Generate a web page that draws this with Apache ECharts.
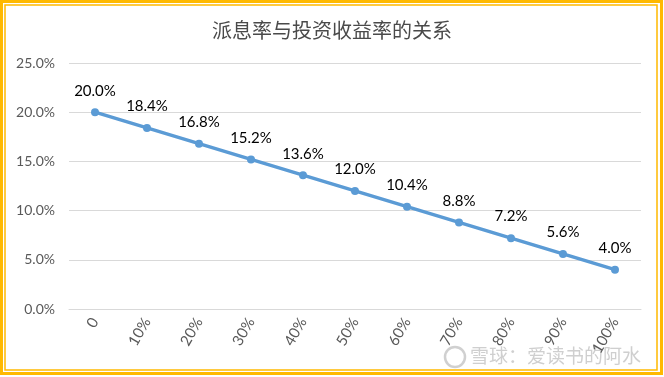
<!DOCTYPE html>
<html>
<head>
<meta charset="utf-8">
<script src="https://cdn.jsdelivr.net/npm/echarts@6/dist/echarts.min.js"></script>
<style>
html, body { margin: 0; padding: 0; background: #fff; }
#main { width: 664px; height: 377px; }
</style>
</head>
<body>
<div id="main"></div>
<script>
// 派息率 (x轴)
var payoutRatio = ['0', '10%', '20%', '30%', '40%', '50%', '60%', '70%', '80%', '90%', '100%'];
// 投资收益率 (%)
var returnRate = [20.0, 18.4, 16.8, 15.2, 13.6, 12.0, 10.4, 8.8, 7.2, 5.6, 4.0];
var yTicks = [0, 5, 10, 15, 20, 25];

var myChart = echarts.init(document.getElementById('main'));

var option = {
	backgroundColor: '#fff',
	animation: false,
	title: {
		text: '派息率与投资收益率的关系',
		left: 'center',
		top: 15,
		textStyle: {
			fontFamily: 'Noto Sans CJK SC',
			fontSize: 20,
			fontWeight: 'normal',
			color: '#4a4a4a'
		}
	},
	grid: {
		left: 69,
		right: 23,
		top: 63,
		bottom: 68
	},
	xAxis: {
		type: 'category',
		data: payoutRatio,
		boundaryGap: true,
		axisLine: { show: true, lineStyle: { color: '#d9d9d9' } },
		axisTick: { show: false },
		axisLabel: {
			rotate: 60,
			margin: 10,
			color: '#595959',
			fontFamily: 'Lato',
			fontSize: 15
		}
	},
	yAxis: {
		type: 'value',
		min: yTicks[0],
		max: yTicks[yTicks.length - 1],
		interval: 5,
		axisLine: { show: false },
		axisTick: { show: false },
		splitLine: { lineStyle: { color: '#d9d9d9', width: 1 } },
		axisLabel: {
			margin: 14,
			color: '#595959',
			fontFamily: 'Lato',
			fontSize: 14,
			formatter: function (v) { return v.toFixed(1) + '%'; }
		}
	},
	series: [{
		type: 'line',
		data: returnRate,
		symbol: 'circle',
		symbolSize: 8,
		lineStyle: { color: '#5b9bd5', width: 3.5 },
		itemStyle: { color: '#5b9bd5' },
		label: {
			show: true,
			position: 'top',
			distance: 10,
			color: '#000',
			fontFamily: 'Lato',
			fontSize: 15,
			formatter: function (p) { return p.value.toFixed(1) + '%'; }
		}
	}],
	graphic: [
		{
			type: 'rect',
			shape: { x: 1.5, y: 1.5, width: 660, height: 372 },
			style: { fill: null, stroke: '#ffb900', lineWidth: 3 },
			silent: true
		},
		{
			type: 'rect',
			shape: { x: 5, y: 5, width: 652, height: 365 },
			style: { fill: null, stroke: '#ffb900', lineWidth: 1.5 },
			silent: true
		},
		{
			type: 'circle',
			shape: { cx: 455, cy: 357, r: 10 },
			style: { fill: null, stroke: '#d0d0d0', lineWidth: 2.5 },
			silent: true
		},
		{
			type: 'text',
			left: 470,
			top: 346,
			style: {
				text: '雪球：爱读书的阿水',
				fill: '#cfcfcf',
				fontFamily: 'Noto Sans CJK SC',
				fontSize: 19
			},
			silent: true
		}
	]
};

myChart.setOption(option);
</script>
</body>
</html>
